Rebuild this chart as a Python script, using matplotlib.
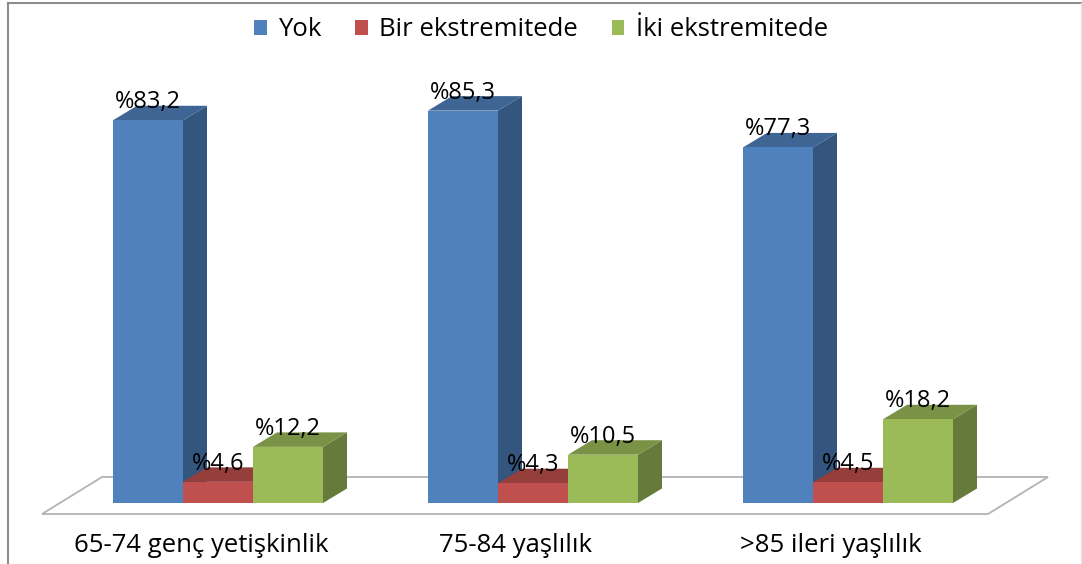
import matplotlib
matplotlib.use('agg')
import matplotlib.pyplot as plt
from matplotlib.patches import Polygon, Patch
from matplotlib.lines import Line2D
import matplotlib.colors as mcolors

# data
categories = ['65-74 genç yetişkinlik', '75-84 yaşlılık', '>85 ileri yaşlılık']
series = ['Yok', 'Bir ekstremitede', 'İki ekstremitede']
yok = [83.2, 85.3, 77.3]
bir = [4.6, 4.3, 4.5]
iki = [12.2, 10.5, 18.2]
colors = ['#4f81bd', '#c0504d', '#9bbb59']

plt.rcParams['font.family'] = ['Open Sans', 'DejaVu Sans']

W, H = 1082, 564
fig = plt.figure(figsize=(W / 100, H / 100), dpi=100)
ax = fig.add_axes([0, 0, 1, 1])
# 315 px per category, 4.6 px per percent, bars start at pixel row 503
ax.set_xlim(-218 / 315, (W - 218) / 315)
ax.set_ylim((503 - H) / 4.6, 503 / 4.6)
ax.axis('off')

bw = 70 / 315          # bar width
dx = 24 / 315          # depth offset x
dy = 14.5 / 4.6        # depth offset y


def shade(c, f):
    r, g, b = mcolors.to_rgb(c)
    return (r * f, g * f, b * f)


# floor
floor = Polygon([(-176 / 315, -11 / 4.6), (-116 / 315, 26 / 4.6),
                 (830 / 315, 26 / 4.6), (770 / 315, -11 / 4.6)],
                closed=True, facecolor='white', edgecolor='#b3b3b3', lw=1.3, zorder=1)
ax.add_patch(floor)

values = [yok, bir, iki]
z = 2
for i in range(len(categories)):
    for j, vals in enumerate(values):
        v = vals[i]
        x0 = i + (j - 1) * bw - bw / 2
        x1 = x0 + bw
        c = colors[j]
        side = Polygon([(x1, 0), (x1 + dx, dy), (x1 + dx, v + dy), (x1, v)],
                       facecolor=shade(c, 0.66), edgecolor='none', zorder=z)
        top = Polygon([(x0, v), (x0 + dx, v + dy), (x1 + dx, v + dy), (x1, v)],
                      facecolor=shade(c, 0.78), edgecolor='none', zorder=z)
        ax.add_patch(side)
        ax.add_patch(top)
        ax.bar(x0, v, width=bw, align='edge', color=c, edgecolor='none', zorder=z)
        z += 1
        ax.text(x0 + bw / 2, v + 18 / 4.6, '%' + f'{v:.1f}'.replace('.', ','),
                ha='center', va='center', fontsize=17, color='black', zorder=20)

for i, cat in enumerate(categories):
    ax.text(i - 17 / 315, -43 / 4.6, cat, ha='center', va='center', fontsize=18.5, color='black')

handles = [Patch(facecolor=c, edgecolor='none') for c in colors]
fig.legend(handles, series, loc='center', bbox_to_anchor=(0.5, 1 - 30 / H), ncol=3,
           frameon=False, fontsize=18.5, handlelength=0.5, handleheight=0.5,
           handletextpad=0.45, columnspacing=1.3)

# chart border
fig.add_artist(Line2D([8 / W, 8 / W], [0, 1 - 3 / H], color='#8c8c8c', lw=1.5))
fig.add_artist(Line2D([8 / W, 1], [1 - 3 / H, 1 - 3 / H], color='#8c8c8c', lw=1.5))
fig.add_artist(Line2D([1 - 1.5 / W, 1 - 1.5 / W], [0, 1 - 3 / H], color='#e6e6e6', lw=1))

fig.savefig('out.png', dpi=100)
